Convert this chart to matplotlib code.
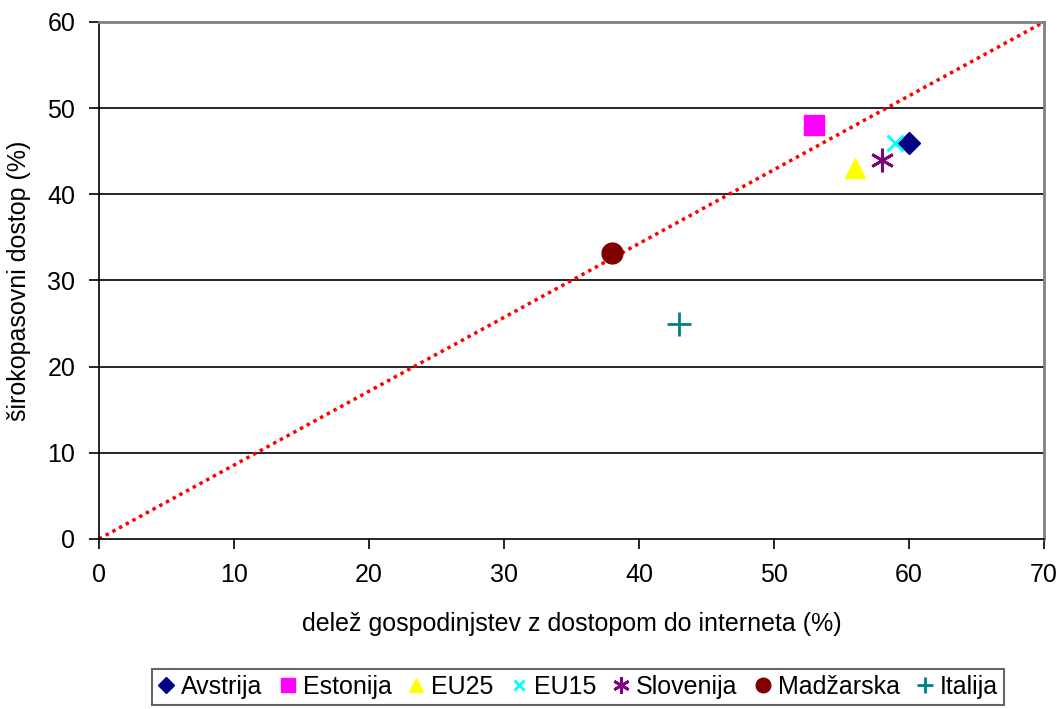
import matplotlib
matplotlib.use("Agg")
import matplotlib.pyplot as plt

plt.rcParams['font.family'] = ['Liberation Sans', 'DejaVu Sans']

# data
countries = ["Avstrija", "Estonija", "EU25", "EU15", "Slovenija", "Madžarska", "Italija"]
internet = [60, 53, 56, 59, 58, 38, 43]
broadband = [46, 48, 43, 46, 44, 33.2, 25]
markers = ["D", "s", "^", "x", (6, 2, 0), "o", "+"]
colors = ["#000080", "#FF00FF", "#FFFF00", "#00FFFF", "#800080", "#800000", "#008080"]
sizes = [11, 14, 15, 11, 17, 15, 17]

line_x = [0, 70]
line_y = [0, 60]

fig = plt.figure(figsize=(10.63, 7.09), dpi=100)
ax = fig.add_axes([0.0931, 0.2398, 0.8890, 0.7292])

for y in range(10, 70, 10):
    ax.axhline(y, color="black", lw=1.2, zorder=1)

ax.plot(line_x, line_y, color="#FF0000", lw=2.5, ls=(0, (1, 1.2)), zorder=2)

for c, xv, yv, m, col, s in zip(countries, internet, broadband, markers, colors, sizes):
    lw = 2 if m in ("x", "+") or isinstance(m, tuple) else 0
    ax.plot([xv], [yv], ls="none", marker=m, color=col, ms=s, mew=lw if lw else 1,
            mec=col, label=c, zorder=3)

ax.set_xlim(0, 70)
ax.set_ylim(0, 60)
ax.set_xticks(range(0, 80, 10))
ax.set_yticks(range(0, 70, 10))
ax.tick_params(direction="out", length=7, width=1.2, labelsize=18, colors="black", pad=10)

for side in ("left", "bottom"):
    ax.spines[side].set_color("black")
    ax.spines[side].set_linewidth(1.2)
for side in ("top", "right"):
    ax.spines[side].set_color("#808080")
    ax.spines[side].set_linewidth(2)

ax.set_xlabel("delež gospodinjstev z dostopom do interneta (%)", fontsize=18, labelpad=18)
ax.set_ylabel("širokopasovni dostop (%)", fontsize=18, labelpad=12)

leg = fig.legend(loc="center", bbox_to_anchor=(0.544, 0.031), ncol=7, fontsize=18,
                 frameon=True, fancybox=False, edgecolor="black", handlelength=0.6,
                 handletextpad=0.3, columnspacing=0.7, borderpad=0.25, markerscale=0.7,
                 borderaxespad=0)
leg.get_frame().set_linewidth(1.5)
leg.get_frame().set_edgecolor("#404040")

fig.savefig("out.png", dpi=100)
